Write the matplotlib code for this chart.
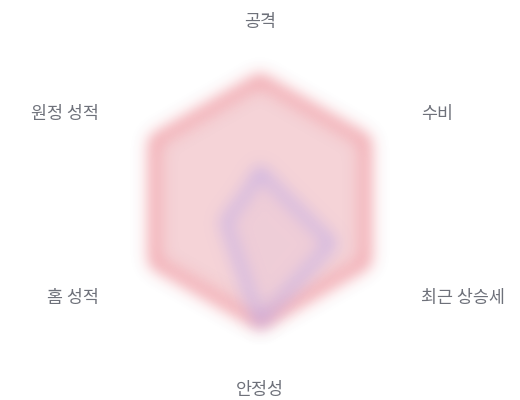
import numpy as np
import matplotlib
matplotlib.use("Agg")
import matplotlib.pyplot as plt

plt.rcParams['font.family'] = ['Noto Sans CJK KR', 'DejaVu Sans']

categories = ['공격', '수비', '최근 상승세', '안정성', '홈 성적', '원정 성적']
team_red = [100, 100, 100, 100, 100, 100]
team_blue = [25, 18, 68, 100, 33, 13]
r_max = 100


def make_blur(sigma):
    rad = int(3 * sigma)
    xs = np.arange(-rad, rad + 1)
    k = np.exp(-xs ** 2 / (2.0 * sigma ** 2))
    k = k / k.sum()

    def conv(arr, axis):
        out = np.zeros_like(arr)
        for i, w in enumerate(k):
            out += w * np.roll(arr, i - rad, axis=axis)
        return out

    def f(im, dpi):
        pad = rad + 2
        a = np.pad(im, ((pad, pad), (pad, pad), (0, 0)))
        pm = a.copy()
        pm[..., :3] *= pm[..., 3:4]
        pm = conv(pm, 0)
        pm = conv(pm, 1)
        alpha = pm[..., 3:4]
        rgb = np.where(alpha > 1e-6, pm[..., :3] / np.maximum(alpha, 1e-6), 0)
        out = np.concatenate([np.clip(rgb, 0, 1), np.clip(alpha, 0, 1)], axis=2)
        return out, -pad, -pad
    return f


W, H = 520, 400
fig = plt.figure(figsize=(W / 100, H / 100), dpi=100)
cx, cy, R = 260, 201.5, 122
ax = fig.add_axes([(cx - R) / W, (H - cy - R) / H, 2 * R / W, 2 * R / H], projection='polar')
ax.set_theta_zero_location('N')
ax.set_theta_direction(-1)
ax.set_ylim(0, r_max)
ax.set_axis_off()

n = len(categories)
theta = np.linspace(0, 2 * np.pi, n, endpoint=False)
th = np.concatenate([theta, theta[:1]])

blur = make_blur(8.0)

rv = np.array(team_red + team_red[:1], dtype=float)
bv = np.array(team_blue + team_blue[:1], dtype=float)

f1 = ax.fill(th, rv, color='#f5d3d7', alpha=1.0, zorder=1, clip_on=False)[0]
l1, = ax.plot(th, rv, color='#ee7a85', lw=5.0, zorder=2, clip_on=False, solid_joinstyle='round')
f2 = ax.fill(th, bv, color='#b89ad8', alpha=0.10, zorder=3, clip_on=False)[0]
l2, = ax.plot(th, bv, color='#bca8ea', lw=4.5, zorder=4, clip_on=False, solid_joinstyle='round')
for art in (f1, l1, f2, l2):
    art.set_agg_filter(blur)
    art.set_rasterized(True)

pad = 62
for t, lab in zip(theta, categories):
    dx = np.sin(t)
    dy = np.cos(t)
    if dx > 0.1:
        ha = 'left'
    elif dx < -0.1:
        ha = 'right'
    else:
        ha = 'center'
    ox = dx * pad + 1.5 * np.sign(round(dx, 3))
    oy = dy * pad - 4.5
    ax.annotate(lab, xy=(t, r_max), xytext=(ox, oy), textcoords='offset pixels',
                ha=ha, va='center', fontsize=12.5, color='#6e717a', annotation_clip=False)

fig.savefig('out.png', dpi=100, facecolor='white')
